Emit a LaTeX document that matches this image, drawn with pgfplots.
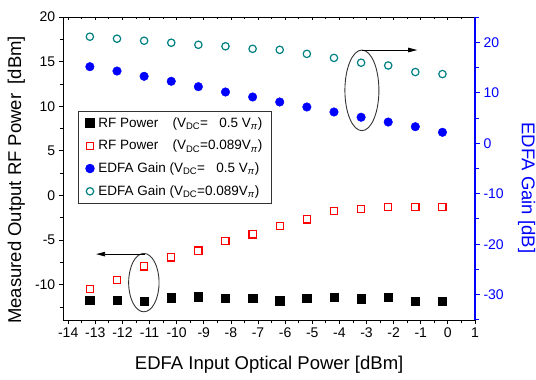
\documentclass[border=0pt]{standalone}
\usepackage{fontspec}
\setmainfont{Liberation Sans}
\usepackage{calc}
\usepackage{pgfplots}
\pgfplotsset{compat=1.18}
\usetikzlibrary{arrows.meta}
\definecolor{tealc}{RGB}{0,128,128}
\pgfplotsset{
  common/.style={
    scale only axis, width=411.7pt, height=303pt,
    xmin=-14.18, xmax=1,
    /pgf/number format/assume math mode=true,
    tick label style={font=\fontsize{14}{16}\selectfont},
  }
}
\begin{document}
\begin{tikzpicture}
% top axis (inward ticks)
\begin{axis}[common, ymin=0, ymax=1, axis y line=none, axis x line*=top,
  xtick={-14,...,1}, minor xtick={-13.5,-12.5,...,0.5}, xticklabels={},
  tick align=inside, major tick length=3pt, minor tick length=2pt,
  x axis line style={-, line width=0.9pt}, tick style={black, line width=0.8pt}]
\addplot[draw=none] coordinates {(0,0.5)};
\end{axis}
% left axis
\begin{axis}[common, name=main, ymin=-13.95, ymax=20,
  axis x line*=bottom, axis y line*=left,
  xtick={-14,...,1}, minor xtick={-13.5,-12.5,...,0.5},
  ytick={-10,-5,...,20}, minor ytick={-12.5,-7.5,...,17.5},
  tick align=outside, major tick length=4.5pt, minor tick length=3pt,
  axis line style={-, line width=0.9pt}, tick style={black, line width=0.8pt},
  xlabel={EDFA Input Optical Power [dBm]},
  ylabel={Measured Output RF Power\hspace{0.5em}[dBm]},
  every axis x label/.style={at={(axis description cs:0.5,-0.1485)}, anchor=center, font=\fontsize{18.5}{21}\selectfont},
  every axis y label/.style={at={(axis description cs:-0.1142,0.462)}, anchor=center, rotate=90, font=\fontsize{18.5}{21}\selectfont},
]
\addplot[only marks, mark=square*, mark size=4.2pt, black] coordinates {
(-13.2,-11.70) (-12.2,-11.70) (-11.2,-11.84) (-10.2,-11.47) (-9.2,-11.36) (-8.2,-11.54) (-7.2,-11.54)
(-6.2,-11.80) (-5.2,-11.54) (-4.2,-11.42) (-3.2,-11.58) (-2.2,-11.39) (-1.2,-11.84) (-0.2,-11.87)};
\addplot[only marks, mark=square, mark size=3.6pt, red, mark options={line width=1.2pt}] coordinates {
(-13.2,-10.50) (-12.2,-9.50) (-11.2,-7.95) (-10.2,-6.94) (-9.2,-6.18) (-8.2,-5.08) (-7.2,-4.36)
(-6.2,-3.43) (-5.2,-2.68) (-4.2,-1.72) (-3.2,-1.52) (-2.2,-1.27) (-1.2,-1.27) (-0.2,-1.27)};
\draw[black!80, line width=0.9pt] (axis cs:-3.17,11.78) ellipse [x radius=17pt, y radius=40.3pt];
\draw[black, line width=0.8pt, -{Triangle[length=9pt,width=4.5pt]}] (axis cs:-3.17,16.3) -- (axis cs:-1.13,16.3);
\draw[black!80, line width=0.9pt] (axis cs:-11.21,-9.76) ellipse [x radius=15.2pt, y radius=29.2pt];
\draw[black, line width=0.8pt, -{Triangle[length=9pt,width=4.5pt]}] (axis cs:-11.18,-6.57) -- (axis cs:-12.97,-6.57);
\end{axis}
% right axis
\begin{axis}[common, ymin=-35, ymax=25, axis x line=none, axis y line*=right,
  ytick={-30,-20,...,20}, minor ytick={-35,-25,...,25},
  tick align=outside, major tick length=5pt, minor tick length=3.5pt,
  y axis line style={-, blue, line width=1.1pt}, ytick style={blue, line width=1pt},
  yticklabel style={blue},
  ylabel={EDFA Gain [dB]},
  every axis y label/.style={at={(axis description cs:1.1256,0.436)}, anchor=center, rotate=-90, blue, font=\fontsize{18.5}{21}\selectfont},
  legend style={at={(axis description cs:0.0364,0.69)}, anchor=north west, draw=black!80, line width=0.8pt,
    font=\fontsize{13.5}{15.5}\selectfont, inner xsep=7pt, inner ysep=4pt, row sep=7.5pt, column sep=2pt},
  legend cell align=left,
]
\addlegendimage{only marks, mark=square*, mark size=4.2pt, black}
\addlegendentry{\makebox[\widthof{EDFA Gain\ }+3pt][l]{RF Power}(V\textsubscript{DC}=\makebox[\widthof{0.089V}][r]{0.5 V}\textsubscript{\textit{π}})}
\addlegendimage{only marks, mark=square, mark size=3.6pt, red, mark options={line width=1.2pt}}
\addlegendentry{\makebox[\widthof{EDFA Gain\ }+3pt][l]{RF Power}(V\textsubscript{DC}=0.089V\textsubscript{\textit{π}})}
\addplot[only marks, mark=*, mark size=4.3pt, blue] coordinates {
(-13.2,15.16) (-12.2,14.30) (-11.2,13.26) (-10.2,12.27) (-9.2,11.20) (-8.2,10.15) (-7.2,9.16)
(-6.2,8.17) (-5.2,7.18) (-4.2,6.19) (-3.2,5.15) (-2.2,4.20) (-1.2,3.28) (-0.2,2.17)};
\addlegendentry{EDFA Gain (V\textsubscript{DC}=\makebox[\widthof{0.089V}][r]{0.5 V}\textsubscript{\textit{π}})}
\addplot[only marks, mark=o, mark size=3.7pt, tealc, mark options={line width=1.2pt}] coordinates {
(-13.2,21.1) (-12.2,20.7) (-11.2,20.3) (-10.2,19.9) (-9.2,19.5) (-8.2,19.2) (-7.2,18.7)
(-6.2,18.5) (-5.2,17.7) (-4.2,16.9) (-3.2,15.95) (-2.2,15.4) (-1.2,14.1) (-0.2,13.7)};
\addlegendentry{EDFA Gain (V\textsubscript{DC}=0.089V\textsubscript{\textit{π}})}
\end{axis}
\pgfresetboundingbox
\useasboundingbox ([shift={(-63.3pt,-60pt)}]main.south west) rectangle ([shift={(61pt,17pt)}]main.north east);
\end{tikzpicture}
\end{document}
